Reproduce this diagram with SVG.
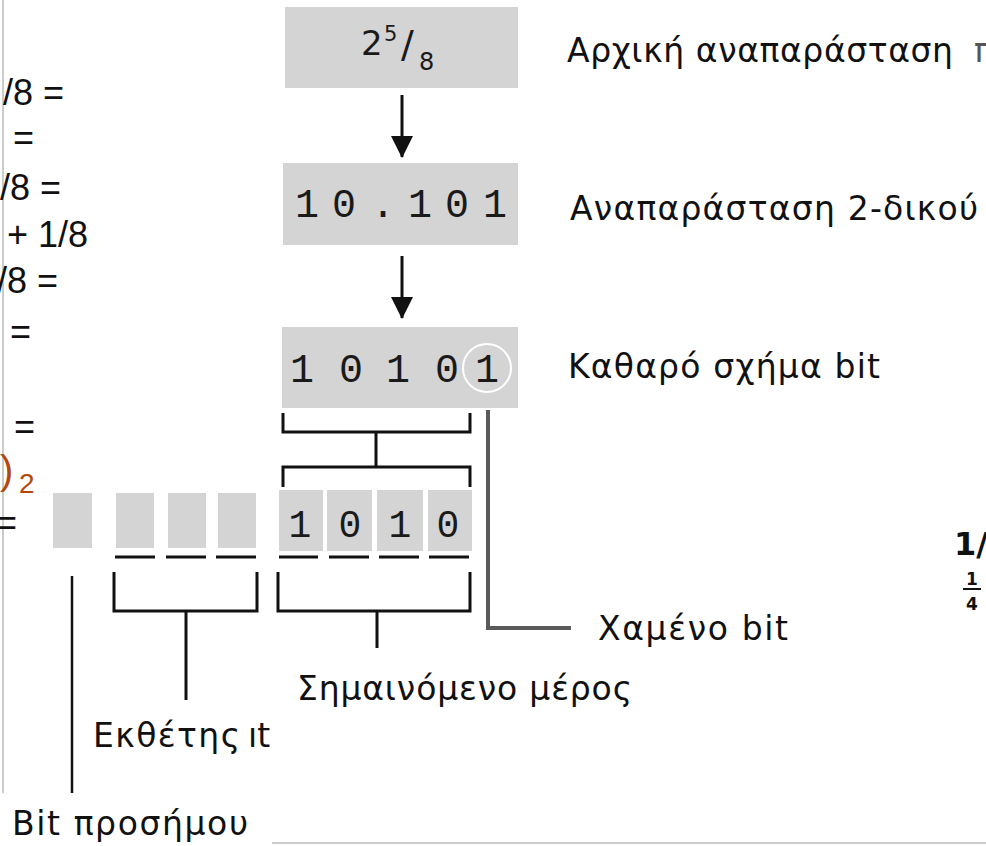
<svg xmlns="http://www.w3.org/2000/svg" width="986" height="846" viewBox="0 0 986 846">
<style>
.box{fill:#d4d4d4}
.mono{font-family:"Liberation Mono","DejaVu Sans Mono",monospace;font-size:40px;fill:#1a1a1a;text-anchor:middle}
.lbl{font-family:"DejaVu Sans","Noto Sans",sans-serif;font-size:33px;fill:#111}
.side{font-family:"Liberation Sans","Lato",sans-serif;font-size:36px;fill:#111}
.br{fill:none;stroke:#111;stroke-width:3}
.ul{stroke:#111;stroke-width:3}
.edge{stroke:#bbb;stroke-width:1.5}
.frac{font-family:"DejaVu Sans",sans-serif;fill:#1a1a1a}
</style>
<defs>
<marker id="ah" viewBox="0 0 22 22" refX="21" refY="11" markerWidth="22" markerHeight="22" markerUnits="userSpaceOnUse" orient="auto">
<path d="M0,0 L22,11 L0,22 Z" fill="#111"/>
</marker>
</defs>

<line class="edge" x1="3" y1="0" x2="3" y2="793"/>
<line class="edge" x1="272" y1="843" x2="986" y2="843"/>

<g id="left-equations">
<text class="side" x="3" y="105">/8 =</text>
<text class="side" x="13" y="150">=</text>
<text class="side" x="0" y="200">/8 =</text>
<text class="side" x="7" y="247">+ 1/8</text>
<text class="side" x="-3" y="293">/8 =</text>
<text class="side" x="10" y="344">=</text>
<text class="side" x="14" y="439">=</text>
<text class="side" x="0" y="484" style="fill:#b4460e;font-size:40px">)</text>
<text class="side" x="19" y="493" style="fill:#b4460e;font-size:28px">2</text>
<text class="side" x="-4" y="535">=</text>
</g>

<g id="right-fraction">
<text x="954" y="555" style="font-family:'DejaVu Sans',sans-serif;font-size:32px;font-weight:bold;fill:#111">1/</text>
<text x="972" y="585" text-anchor="middle" style="font-family:'DejaVu Sans',sans-serif;font-size:17px;font-weight:bold;fill:#111">1</text>
<line x1="963" y1="589" x2="981" y2="589" stroke="#111" stroke-width="2"/>
<text x="972" y="610" text-anchor="middle" style="font-family:'DejaVu Sans',sans-serif;font-size:17px;font-weight:bold;fill:#111">4</text>
</g>

<g id="initial">
<rect class="box" x="285" y="7" width="233" height="81"/>
<text class="frac" x="361" y="55" style="font-size:34px">2</text>
<text class="frac" x="384" y="41" style="font-size:21px">5</text>
<text class="frac" x="401" y="57" style="font-size:38px">/</text>
<text class="frac" x="419" y="70" style="font-size:24px">8</text>
<text class="lbl" x="567" y="62" textLength="386">Αρχική αναπαράσταση</text>
<text class="lbl" x="974" y="62" style="fill:#555">π</text>
</g>

<g id="binary">
<rect class="box" x="283" y="163" width="235" height="82"/>
<text class="mono" x="307 344 383 420 457 495" y="217">10.101</text>
<text class="lbl" x="570" y="220" textLength="408">Αναπαράσταση 2-δικού</text>
</g>

<g id="pattern">
<rect class="box" x="282" y="327" width="236" height="81"/>
<text class="mono" x="302 351 398 447 487" y="382">10101</text>
<circle cx="487" cy="368" r="24" fill="none" stroke="#fff" stroke-width="2"/>
<text class="lbl" x="568" y="378" textLength="312">Καθαρό σχήμα bit</text>
</g>

<g id="sign-bit">
<rect class="box" x="53" y="493" width="39" height="55"/>
<text class="lbl" x="12" y="835" textLength="236">Bit προσήμου</text>
</g>

<g id="exponent">
<rect class="box" x="116" y="493" width="38" height="55"/>
<rect class="box" x="168" y="493" width="38" height="55"/>
<rect class="box" x="218" y="493" width="38" height="55"/>
<text class="lbl" x="93" y="747" textLength="147">Εκθέτης</text>
<text class="lbl" x="248" y="747">ıt</text>
</g>

<g id="significand">
<rect class="box" x="279" y="490" width="44" height="61"/>
<rect class="box" x="327" y="490" width="45" height="61"/>
<rect class="box" x="377" y="490" width="46" height="61"/>
<rect class="box" x="428" y="490" width="44" height="61"/>
<text class="mono" x="300 350 400 448" y="537" style="font-size:38px">1010</text>
<text class="lbl" x="297" y="700" textLength="335">Σημαινόμενο μέρος</text>
</g>

<g id="lost-bit">
<text class="lbl" x="598" y="640" textLength="190">Χαμένο bit</text>
</g>

<g id="connectors">
<line x1="402" y1="95" x2="402" y2="157" stroke="#111" stroke-width="3" marker-end="url(#ah)"/>
<line x1="402" y1="256" x2="402" y2="318" stroke="#111" stroke-width="3" marker-end="url(#ah)"/>
<path class="br" d="M283,413 V432 H470 V413"/>
<line class="ul" x1="376" y1="432" x2="376" y2="467"/>
<path class="br" d="M283,487 V467 H470 V487"/>
<path d="M488,410 V628 H571" fill="none" stroke="#5a5a5a" stroke-width="4"/>
<line class="ul" x1="115" y1="557" x2="155" y2="557"/>
<line class="ul" x1="166" y1="557" x2="206" y2="557"/>
<line class="ul" x1="216" y1="557" x2="256" y2="557"/>
<line class="ul" x1="279" y1="557" x2="318" y2="557"/>
<line class="ul" x1="329" y1="557" x2="369" y2="557"/>
<line class="ul" x1="379" y1="557" x2="419" y2="557"/>
<line class="ul" x1="429" y1="557" x2="469" y2="557"/>
<line x1="72" y1="576" x2="72" y2="793" stroke="#111" stroke-width="2.5"/>
<path class="br" d="M114,572 V611 H257 V572"/>
<line class="ul" x1="186" y1="611" x2="186" y2="700"/>
<path class="br" d="M278,572 V611 H470 V572"/>
<line class="ul" x1="377" y1="611" x2="377" y2="648"/>
</g>
</svg>
